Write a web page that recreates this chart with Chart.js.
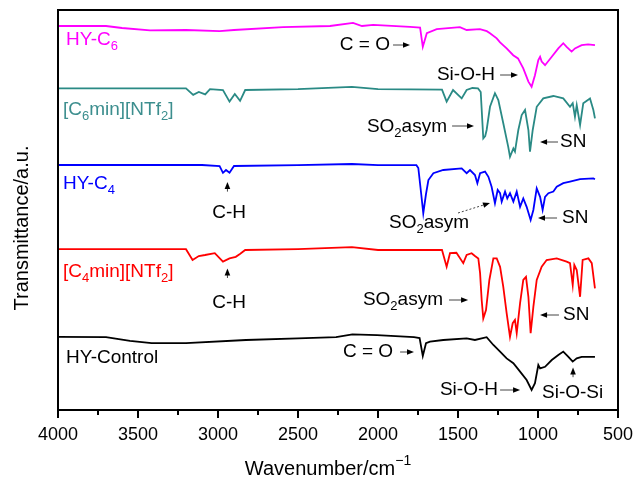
<!DOCTYPE html>
<html>
<head>
<meta charset="utf-8">
<script src="https://cdn.jsdelivr.net/npm/chart.js@4.4.0/dist/chart.umd.min.js"></script>
<style>
  html, body { margin: 0; padding: 0; background: #fff; }
  #wrap { width: 640px; height: 480px; }
</style>
</head>
<body>
<div id="wrap"><canvas id="ftir" width="640" height="480"></canvas></div>
<script>
const FONT = '"Liberation Sans", Arial, Helvetica, sans-serif';

// wavenumber (cm-1), transmittance (a.u., traces stacked)
const hyC6 = [[4000,96],[3700,96],[3600,95.5],[3425,94.9],[3200,95],[2990,94.7],[2900,95],[2594,95.7],
  [2300,96],[2156,96.8],[2100,96],[2030,96.3],[1800,95.8],[1737,95.6],[1720,90.8],[1695,94.2],[1633,95.2],
  [1488,95.7],[1446,95],[1363,95.2],[1320,94.7],[1300,94.2],[1258,92.9],[1237,91.9],[1196,90.4],[1155,88.7],
  [1125,87.9],[1092,85.4],[1060,82.1],[1040,80.8],[1019,83.7],[998,87.5],[987,88.3],[977,87.1],[956,86.2],
  [914,88.3],[873,90.4],[842,91.7],[821,90.8],[790,89.6],[769,90.4],[727,91.2],[687,91.4],[644,91.2]];

const c6min = [[4000,80.4],[3200,80.4],[3155,78.8],[3120,79.5],[3080,78.9],[3050,80.2],[2969,80.0],[2928,77.1],
  [2895,79.0],[2862,77.3],[2830,80.0],[2500,80.2],[2163,80.8],[2000,80.2],[1600,80.1],[1571,77.1],[1531,80.0],
  [1477,77.9],[1446,80],[1410,80.5],[1375,80.4],[1358,79.5],[1342,67.9],[1330,68.5],[1321,70],[1300,75.8],
  [1269,79.2],[1248,77.5],[1217,71.7],[1186,65.8],[1175,63.3],[1154,65.4],[1144,64.6],[1123,70],[1102,73.75],
  [1081,75],[1060,70],[1050,64.6],[1033,70],[1008,75.8],[967,77.9],[904,78.5],[842,77.9],[800,75.8],[783,76.7],
  [769,73.3],[758,76.2],[737,71.25],[717,76.7],[675,77.9],[654,75],[644,72.9]];

const hyC4 = [[4000,61.25],[3100,61.25],[2990,61.0],[2969,59.3],[2950,60],[2928,59.3],[2900,61.0],[2500,61.2],
  [2163,61.5],[2000,61.2],[1760,61.2],[1748,60.5],[1730,54],[1717,49.2],[1700,54],[1685,57.5],[1654,59.2],
  [1592,60],[1477,60.4],[1446,59.2],[1425,60],[1394,58.75],[1379,56.7],[1362,59.2],[1331,59.6],[1310,58.3],
  [1290,55.8],[1269,51.7],[1252,55],[1237,54.2],[1227,52.1],[1206,54.6],[1192,52.9],[1175,54.2],[1154,52.1],
  [1133,54.6],[1112,50.8],[1092,52.9],[1071,50.8],[1046,47.5],[1029,50],[1008,55.4],[987,53.3],[971,50],
  [956,53.3],[935,54.2],[904,54.6],[883,55.8],[842,56.7],[800,57.1],[737,57.7],[654,57.9],[644,57.7]];

const c4min = [[4000,40.2],[3200,40.2],[3159,37.5],[3120,38.5],[3081,38.75],[3020,39.2],[2969,37.1],[2928,37.9],
  [2889,38.3],[2863,39],[2830,40],[2500,40.2],[2163,40.7],[2000,40],[1600,40],[1571,35.8],[1550,39.2],
  [1510,39.3],[1467,36.7],[1446,38.75],[1415,39.2],[1394,38.5],[1373,37.9],[1362,34.2],[1352,27.5],[1342,22.9],
  [1325,25],[1304,32.5],[1279,37.9],[1258,37.9],[1237,35.8],[1217,30.8],[1196,24.2],[1175,18.3],[1158,21.7],
  [1144,22.5],[1133,19.2],[1112,26.7],[1092,32.5],[1075,33.3],[1060,28.3],[1046,19.2],[1029,25.8],[1008,32.5],
  [977,35.8],[946,37.5],[883,37.9],[821,37.1],[800,36.7],[783,31.25],[773,36.25],[758,35],[737,28.3],
  [721,37.5],[685,37.9],[664,36.7],[644,30.4]];

const hyControl = [[4000,18.3],[3700,18.2],[3550,17.3],[3415,16.7],[3200,16.7],[2825,17.5],[2500,17.9],
  [2262,18.2],[2160,18.9],[2006,18.7],[1775,18.2],[1740,18.0],[1720,13.5],[1700,16.7],[1675,17.1],[1592,17.5],
  [1446,17.9],[1394,17.5],[1321,18.2],[1279,16.25],[1237,14.6],[1196,12.9],[1154,11.7],[1112,9.6],[1071,7.5],
  [1040,5],[1019,6.7],[998,11.25],[987,10.4],[956,10.8],[914,12.5],[873,13.75],[842,14.6],[810,13.3],
  [783,12.1],[758,12.9],[727,13.3],[644,13.3]];

const xMajor = [4000, 3500, 3000, 2500, 2000, 1500, 1000, 500];

// labels and arrows, placed in data units
const notes = [
  { parts: [['HY-C'], ['6', 'sub']], at: [3950, 92.5], align: 'left', color: '#ff00ff' },
  { parts: [['C = O']], at: [1925, 91.25], align: 'right', arrow: [[1906, 91.25], [1800, 91.25]] },
  { parts: [['Si-O-H']], at: [1269, 83.75], align: 'right', arrow: [[1237, 83.75], [1125, 83.75]] },
  { parts: [['[C'], ['6', 'sub'], ['min][NTf'], ['2', 'sub'], [']']], at: [3969, 75], align: 'left', color: '#3c8e8e' },
  { parts: [['SO'], ['2', 'sub'], ['asym']], at: [1569, 70.8], align: 'right', arrow: [[1537, 71], [1400, 71]] },
  { parts: [['SN']], at: [862, 67], align: 'left', arrow: [[875, 67], [987, 67]] },
  { parts: [['HY-C'], ['4', 'sub']], at: [3969, 56.5], align: 'left', color: '#0000ff' },
  { parts: [['C-H']], at: [2931, 49.25], align: 'center', arrow: [[2941, 54.6], [2941, 57]] },
  { parts: [['SO'], ['2', 'sub'], ['asym']], at: [1681, 46.75], align: 'center', arrow: [[1500, 49.25], [1300, 51.75]], dashed: true },
  { parts: [['SN']], at: [850, 48], align: 'left', arrow: [[881, 48], [1000, 48]] },
  { parts: [['[C'], ['4', 'sub'], ['min][NTf'], ['2', 'sub'], [']']], at: [3969, 34.5], align: 'left', color: '#ff0000' },
  { parts: [['C-H']], at: [2931, 26.75], align: 'center', arrow: [[2941, 33], [2941, 35.4]] },
  { parts: [['SO'], ['2', 'sub'], ['asym']], at: [1594, 27.5], align: 'right', arrow: [[1556, 27.5], [1437, 27.5]] },
  { parts: [['SN']], at: [844, 23.75], align: 'left', arrow: [[869, 23.75], [987, 23.75]] },
  { parts: [['HY-Control']], at: [3950, 13], align: 'left' },
  { parts: [['C = O']], at: [1906, 14.5], align: 'right', arrow: [[1862, 14.5], [1775, 14.5]] },
  { parts: [['Si-O-H']], at: [1250, 5], align: 'right', arrow: [[1237, 5], [1112, 5]] },
  { parts: [['Si-O-Si']], at: [975, 4.25], align: 'left', arrow: [[781, 8.2], [781, 10.6]] }
];

function richText(ctx, parts, x, y, align, color, size) {
  size = size || 19;
  const fs = p => (p[1] ? Math.round(size * 0.7) : size);
  let w = 0;
  parts.forEach(p => { ctx.font = fs(p) + 'px ' + FONT; w += ctx.measureText(p[0]).width; });
  let cx = align === 'right' ? x - w : align === 'center' ? x - w / 2 : x;
  ctx.fillStyle = color || '#000';
  ctx.textAlign = 'left';
  ctx.textBaseline = 'middle';
  parts.forEach(p => {
    ctx.font = fs(p) + 'px ' + FONT;
    const dy = p[1] === 'sub' ? size * 0.35 : p[1] === 'sup' ? -size * 0.38 : 0;
    ctx.fillText(p[0], cx, y + dy);
    cx += ctx.measureText(p[0]).width;
  });
}

function arrow(ctx, x1, y1, x2, y2, dashed) {
  const ang = Math.atan2(y2 - y1, x2 - x1);
  const hl = 7, hw = 2.8;
  ctx.save();
  ctx.strokeStyle = '#444';
  ctx.lineWidth = 1;
  if (dashed) ctx.setLineDash([2, 2]);
  ctx.beginPath();
  ctx.moveTo(x1, y1);
  ctx.lineTo(x2 - Math.cos(ang) * hl * 0.8, y2 - Math.sin(ang) * hl * 0.8);
  ctx.stroke();
  ctx.setLineDash([]);
  ctx.fillStyle = '#000';
  ctx.beginPath();
  ctx.moveTo(x2, y2);
  ctx.lineTo(x2 - Math.cos(ang) * hl - Math.sin(ang) * hw, y2 - Math.sin(ang) * hl + Math.cos(ang) * hw);
  ctx.lineTo(x2 - Math.cos(ang) * hl + Math.sin(ang) * hw, y2 - Math.sin(ang) * hl - Math.cos(ang) * hw);
  ctx.closePath();
  ctx.fill();
  ctx.restore();
}

const decor = {
  id: 'decor',
  afterDraw(chart) {
    const { ctx, chartArea: a, scales: { x, y } } = chart;
    ctx.save();
    // frame
    ctx.strokeStyle = '#000';
    ctx.lineWidth = 2;
    ctx.strokeRect(a.left, a.top, a.right - a.left, a.bottom - a.top);
    // ticks, long at labelled values
    ctx.beginPath();
    x.ticks.forEach(t => {
      const px = x.getPixelForValue(t.value);
      ctx.moveTo(px, a.bottom);
      ctx.lineTo(px, a.bottom + (t.value % 500 === 0 ? 8 : 5));
    });
    ctx.stroke();
    // notes
    notes.forEach(n => {
      richText(ctx, n.parts, x.getPixelForValue(n.at[0]), y.getPixelForValue(n.at[1]), n.align, n.color);
      if (n.arrow) {
        arrow(ctx, x.getPixelForValue(n.arrow[0][0]), y.getPixelForValue(n.arrow[0][1]),
          x.getPixelForValue(n.arrow[1][0]), y.getPixelForValue(n.arrow[1][1]), n.dashed);
      }
    });
    // axis titles
    richText(ctx, [['Wavenumber/cm'], ['\u22121', 'sup']], 328, 469, 'center', '#000', 20);
    ctx.save();
    ctx.translate(22, 228);
    ctx.rotate(-Math.PI / 2);
    richText(ctx, [['Transmittance/a.u.']], 0, 0, 'center', '#000', 20);
    ctx.restore();
    ctx.restore();
  }
};

const toXY = arr => arr.map(p => ({ x: p[0], y: p[1] }));
const mk = (data, color) => ({
  data: toXY(data), borderColor: color, borderWidth: 1.8, pointRadius: 0, tension: 0, fill: false
});

new Chart(document.getElementById('ftir'), {
  type: 'line',
  data: {
    datasets: [
      mk(hyC6, '#ff00ff'),
      mk(c6min, '#2a8a85'),
      mk(hyC4, '#0000ff'),
      mk(c4min, '#ff0000'),
      mk(hyControl, '#000000')
    ]
  },
  options: {
    responsive: false,
    animation: false,
    layout: { padding: { left: 58, right: 22, top: 10, bottom: 0 } },
    plugins: { legend: { display: false }, tooltip: { enabled: false } },
    scales: {
      x: {
        type: 'linear',
        reverse: true,
        min: 500,
        max: 4000,
        afterFit: s => { s.height = 70; },
        ticks: {
          stepSize: 250,
          autoSkip: false,
          maxRotation: 0,
          padding: 6,
          color: '#000',
          font: { family: FONT, size: 18 },
          callback: v => (xMajor.includes(v) ? String(v) : '')
        },
        grid: { drawOnChartArea: false, tickLength: 8, tickColor: 'rgba(0,0,0,0)' },
        border: { display: false }
      },
      y: { display: false, min: 0, max: 100 }
    }
  },
  plugins: [decor]
});
</script>
</body>
</html>
